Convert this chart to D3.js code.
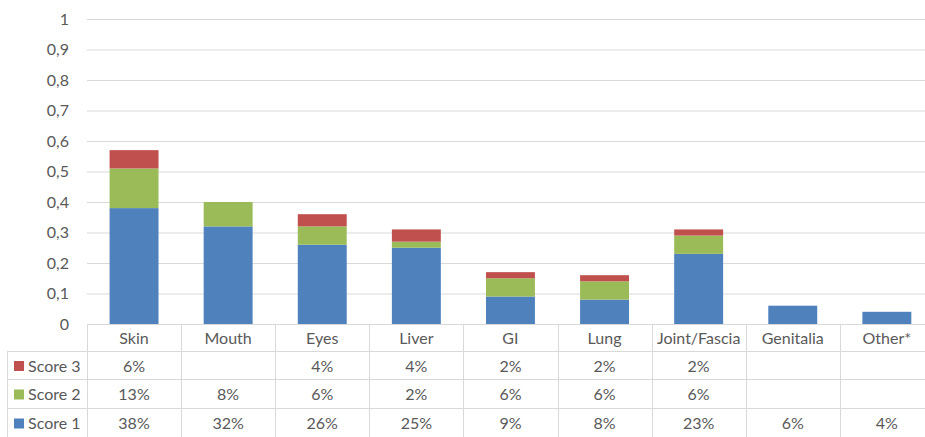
<!DOCTYPE html>
<html>
<head>
<meta charset="utf-8">
<script src="https://cdn.jsdelivr.net/npm/d3@7"></script>
<style>
  html, body { margin: 0; padding: 0; background: #fff; }
  svg { display: block; font-family: Lato, "Open Sans", sans-serif; }
</style>
</head>
<body>
<svg id="chart" width="925" height="437"></svg>
<script>
// Organ involvement by score (fraction of patients)
const categories = ["Skin", "Mouth", "Eyes", "Liver", "GI", "Lung", "Joint/Fascia", "Genitalia", "Other*"];
const score1 = [0.38, 0.32, 0.26, 0.25, 0.09, 0.08, 0.23, 0.06, 0.04];
const score2 = [0.13, 0.08, 0.06, 0.02, 0.06, 0.06, 0.06, null, null];
const score3 = [0.06, null, 0.04, 0.04, 0.02, 0.02, 0.02, null, null];
const seriesNames = ["Score 1", "Score 2", "Score 3"];
const seriesColors = ["#4f81bd", "#9bbb59", "#c0504d"];
const yTicks = [0, 0.1, 0.2, 0.3, 0.4, 0.5, 0.6, 0.7, 0.8, 0.9, 1];

const svg = d3.select("#chart");
const textColor = "#595959";
const lineColor = "#d9d9d9";
const fs = 16;

const left = 87, colW = 94.1;
const right = left + colW * categories.length;
const x = d3.scaleBand().domain(categories).range([left, right]).paddingInner(0.48).paddingOuter(0.24);
const xCol = d3.scaleBand().domain(categories).range([left, right]);
const y = d3.scaleLinear().domain([0, 1]).range([324, 19]);

// gridlines
svg.append("g").selectAll("line").data(yTicks.filter(d => d > 0)).join("line")
  .attr("x1", left).attr("x2", right)
  .attr("y1", d => y(d) + 0.5).attr("y2", d => y(d) + 0.5)
  .attr("stroke", lineColor).attr("stroke-width", 1);

// y-axis labels
const fmt = d => d === 0 ? "0" : d === 1 ? "1" : d3.format(".1f")(d).replace(".", ",");
svg.append("g").selectAll("text").data(yTicks).join("text")
  .attr("x", 69).attr("y", d => y(d)).attr("dy", "0.35em")
  .attr("text-anchor", "end").attr("fill", textColor).attr("font-size", fs)
  .text(fmt);

// stacked bars
const rows = categories.map((c, i) => ({ cat: c, s1: score1[i] || 0, s2: score2[i] || 0, s3: score3[i] || 0 }));
const stack = d3.stack().keys(["s1", "s2", "s3"])(rows);
svg.append("g").selectAll("g").data(stack).join("g")
  .attr("fill", (d, i) => seriesColors[i])
  .selectAll("rect").data(d => d.filter(p => p[1] > p[0])).join("rect")
  .attr("x", d => x(d.data.cat))
  .attr("width", x.bandwidth())
  .attr("y", d => y(d[1]))
  .attr("height", d => y(d[0]) - y(d[1]));

// data table
const tableTop = 324, rowH = [27, 28, 29, 29];
const rowY = [tableTop];
rowH.forEach((h, i) => rowY.push(rowY[i] + h));
const tableLeft = 7;
const tg = svg.append("g").attr("stroke", lineColor).attr("stroke-width", 1);

// horizontal lines
tg.append("line").attr("x1", left).attr("x2", right).attr("y1", rowY[0] + 0.5).attr("y2", rowY[0] + 0.5);
[1, 2, 3, 4].forEach(r => {
  tg.append("line").attr("x1", tableLeft).attr("x2", right)
    .attr("y1", rowY[r] + 0.5).attr("y2", rowY[r] + 0.5);
});
// vertical lines
tg.append("line").attr("x1", tableLeft + 0.5).attr("x2", tableLeft + 0.5).attr("y1", rowY[1]).attr("y2", rowY[4]);
d3.range(categories.length + 1).forEach(i => {
  const xx = Math.round(left + i * colW) + 0.5;
  tg.append("line").attr("x1", xx).attr("x2", xx).attr("y1", rowY[0]).attr("y2", rowY[4]);
});

// header labels
svg.append("g").selectAll("text").data(categories).join("text")
  .attr("x", d => xCol(d) + xCol.bandwidth() / 2)
  .attr("y", (rowY[0] + rowY[1]) / 2 + 1).attr("dy", "0.35em")
  .attr("text-anchor", "middle").attr("fill", textColor).attr("font-size", fs)
  .text(d => d);

// table rows: Score 3, Score 2, Score 1
const tableRows = [
  { name: seriesNames[2], color: seriesColors[2], values: score3 },
  { name: seriesNames[1], color: seriesColors[1], values: score2 },
  { name: seriesNames[0], color: seriesColors[0], values: score1 }
];
const pct = v => v == null ? "" : Math.round(v * 100) + "%";
tableRows.forEach((r, ri) => {
  const cy = (rowY[ri + 1] + rowY[ri + 2]) / 2 + 1;
  svg.append("rect").attr("x", 14).attr("y", cy - 5).attr("width", 10).attr("height", 10).attr("fill", r.color);
  svg.append("text").attr("x", 28).attr("y", cy).attr("dy", "0.35em")
    .attr("fill", textColor).attr("font-size", fs).text(r.name);
  svg.append("g").selectAll("text").data(categories).join("text")
    .attr("x", d => xCol(d) + xCol.bandwidth() / 2)
    .attr("y", cy).attr("dy", "0.35em")
    .attr("text-anchor", "middle").attr("fill", textColor).attr("font-size", fs)
    .text((d, i) => pct(r.values[i]));
});
</script>
</body>
</html>
